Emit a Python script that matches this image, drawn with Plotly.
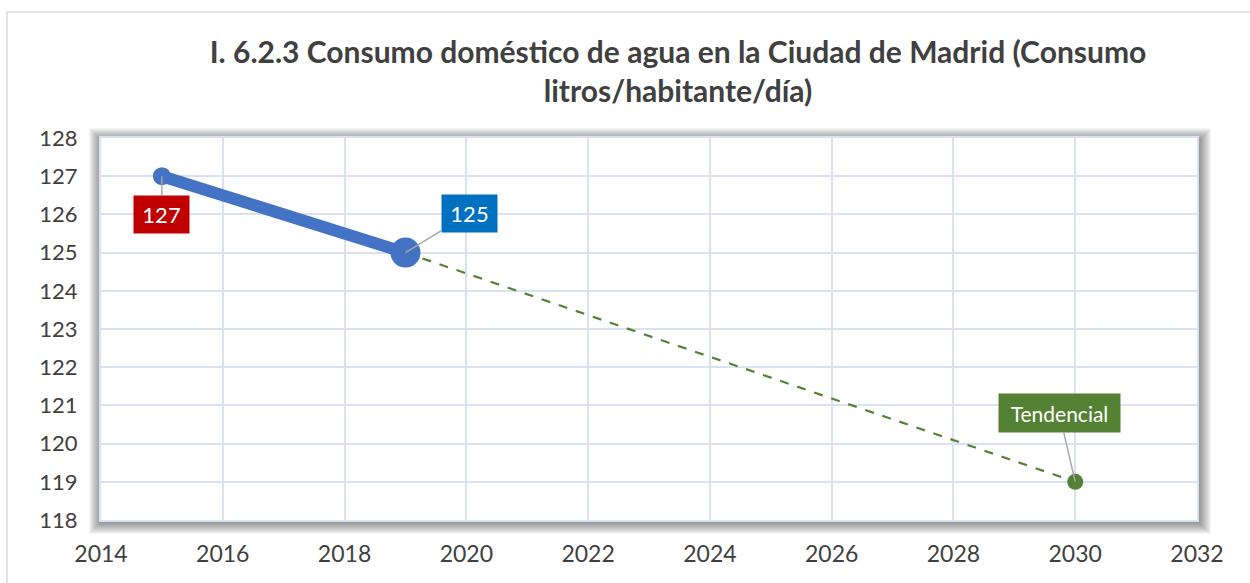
import plotly.graph_objects as go

# Consumo doméstico de agua, Ciudad de Madrid (litros/habitante/día)
years_hist = [2015, 2019]
consumo_hist = [127, 125]
years_trend = [2019, 2030]
consumo_trend = [125, 119]

x_ticks = list(range(2014, 2033, 2))
y_ticks = list(range(118, 129))

W, H = 1250, 583
L, R, T, B = 101, 53, 138, 63

TXT = "#404040"
GRID = "#D9E1F2"
FONT = "Lato, 'Open Sans', sans-serif"

fig = go.Figure()

fig.add_trace(go.Scatter(
    x=years_trend, y=consumo_trend, mode="lines+markers",
    line=dict(color="#548235", width=2.2, dash="dash"),
    marker=dict(size=[0, 16], color="#548235", opacity=1, line=dict(width=0)),
    hoverinfo="skip", showlegend=False,
))
fig.add_trace(go.Scatter(
    x=years_hist, y=consumo_hist, mode="lines+markers",
    line=dict(color="#4472C4", width=12),
    marker=dict(size=[18, 30], color="#4472C4", opacity=1, line=dict(width=0)),
    hoverinfo="skip", showlegend=False,
))

shapes = []
pw, ph = W - L - R, H - T - B
# outer chart frame
shapes.append(dict(type="rect", xref="paper", yref="paper",
                   x0=-(L - 7) / pw, x1=1 + (R + 20) / pw,
                   y0=-(B + 20) / ph, y1=1 + (T - 12) / ph,
                   line=dict(color="#D9D9D9", width=1.5), fillcolor="rgba(0,0,0,0)",
                   layer="below"))
# soft shadow around the plot area
for i in range(12, 0, -1):
    d = i * 1.0
    shapes.append(dict(type="rect", xref="paper", yref="paper",
                       x0=-(d) / pw, x1=1 + (d + 2) / pw,
                       y0=-(d + 2) / ph, y1=1 + (d - 2) / ph,
                       line=dict(width=0), fillcolor="rgba(0,0,0,0.04)",
                       layer="below"))
shapes.append(dict(type="rect", xref="paper", yref="paper", x0=0, x1=1, y0=0, y1=1,
                   line=dict(width=0), fillcolor="white", layer="below"))

annotations = [
    dict(x=2015, y=127, text="127", showarrow=True, ax=0, ay=38,
         arrowhead=0, arrowwidth=1.5, arrowcolor="#A6A6A6",
         bgcolor="#C00000", font=dict(color="white", size=22, family=FONT),
         width=47, height=29, borderpad=4),
    dict(x=2019, y=125, text="125", showarrow=True, ax=64, ay=-39,
         arrowhead=0, arrowwidth=1.5, arrowcolor="#A6A6A6",
         bgcolor="#0070C0", font=dict(color="white", size=22, family=FONT),
         width=47, height=29, borderpad=4),
    dict(x=2030, y=119, text="Tendencial", showarrow=True, ax=-16, ay=-69,
         arrowhead=0, arrowwidth=1.5, arrowcolor="#A6A6A6",
         bgcolor="#548235", font=dict(color="white", size=21, family=FONT),
         width=113, height=30, borderpad=4),
]

fig.update_layout(
    width=W, height=H,
    margin=dict(l=L, r=R, t=T, b=B),
    paper_bgcolor="white", plot_bgcolor="rgba(0,0,0,0)",
    title=dict(
        text="I. 6.2.3 Consumo doméstico de agua en la Ciudad de Madrid (Consumo<br>litros/habitante/día)",
        x=678 / W, xref="container", xanchor="center",
        y=1 - 63 / H, yref="container", yanchor="middle",
        font=dict(family=FONT, size=30, color=TXT, weight="bold"),
    ),
    font=dict(family=FONT, color=TXT),
    shapes=shapes, annotations=annotations,
    xaxis=dict(range=[2014, 2032], tickvals=x_ticks, ticktext=[str(v) for v in x_ticks],
               showgrid=True, gridcolor=GRID, gridwidth=1.5, zeroline=False,
               showline=True, linecolor=GRID, linewidth=2, mirror=True,
               ticks="", ticklabelstandoff=12, tickfont=dict(size=23, color=TXT)),
    yaxis=dict(range=[118, 128], tickvals=y_ticks, ticktext=[str(v) for v in y_ticks],
               showgrid=True, gridcolor=GRID, gridwidth=1.5, zeroline=False,
               showline=True, linecolor=GRID, linewidth=2, mirror=True,
               ticks="", ticklabelstandoff=17, tickfont=dict(size=22, color=TXT)),
)

fig.write_html("out.html")
